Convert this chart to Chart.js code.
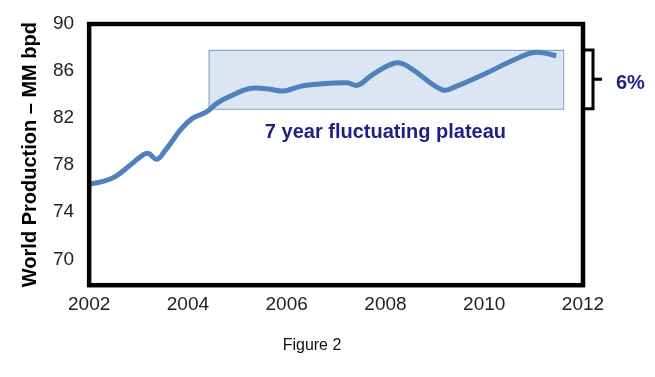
<!DOCTYPE html>
<html>
<head>
<meta charset="utf-8">
<script src="https://cdn.jsdelivr.net/npm/chart.js@4.4.1/dist/chart.umd.min.js"></script>
<style>
  body { margin: 0; background: #fff; }
  #wrap { width: 655px; height: 377px; }
</style>
</head>
<body>
<div id="wrap"><canvas id="chart" width="655" height="377"></canvas></div>
<script>
// 読み取ったデータ
const years = [2002.0, 2002.26, 2002.52, 2002.8, 2003.1, 2003.2, 2003.37, 2003.53, 2003.87, 2004.1,
  2004.37, 2004.6, 2004.93, 2005.23, 2005.6, 2005.94, 2006.28, 2006.68, 2007.22, 2007.44,
  2007.74, 2008.22, 2008.49, 2009.15, 2009.43, 2010.03, 2010.63, 2011.04, 2011.46];
const production = [76.4, 76.6, 77.0, 77.9, 78.9, 79.0, 78.5, 79.2, 81.1, 82.0,
  82.5, 83.3, 84.0, 84.5, 84.5, 84.3, 84.7, 84.9, 85.0, 84.8,
  85.7, 86.7, 86.3, 84.4, 84.7, 85.8, 87.0, 87.6, 87.3];
const xTicks = [2002, 2004, 2006, 2008, 2010, 2012];
const yTicks = [70, 74, 78, 82, 86, 90];
const plateau = [2004.42, 2011.6];     // 年
const plateauRange = [82.8, 87.8];     // MM bpd
const plateauLabel = "7 year fluctuating plateau";
const rangeLabel = "6%";
const yTitle = "World Production \u2013 MM bpd";
const caption = "Figure 2";

const NAVY = "#1f1f86";
const LINE_BLUE = "#4f81bd";
const FONT = "'Liberation Sans', Arial, sans-serif";

// プラトー枠・注記・外枠
const annotations = {
  id: "annotations",
  beforeDatasetsDraw(chart) {
    const { ctx, scales: { x, y } } = chart;
    const l = x.getPixelForValue(plateau[0]);
    const r = x.getPixelForValue(plateau[1]);
    const t = y.getPixelForValue(plateauRange[1]);
    const b = y.getPixelForValue(plateauRange[0]);
    ctx.save();
    ctx.fillStyle = "#dce6f2";
    ctx.fillRect(l, t, r - l, b - t);
    ctx.strokeStyle = "#7a9cc8";
    ctx.lineWidth = 1;
    ctx.strokeRect(l + 0.5, t + 0.5, r - l, b - t);
    ctx.restore();
  },
  afterDraw(chart) {
    const { ctx, chartArea: a, scales: { x, y } } = chart;
    const t = y.getPixelForValue(plateauRange[1]);
    const b = y.getPixelForValue(plateauRange[0]);
    ctx.save();
    // 外枠
    ctx.strokeStyle = "#000";
    ctx.lineWidth = 4.5;
    ctx.strokeRect(a.left, a.top, a.right - a.left, a.bottom - a.top);
    // 括弧
    const bx = a.right + 10;
    ctx.lineWidth = 3;
    ctx.beginPath();
    ctx.moveTo(a.right + 2, t);
    ctx.lineTo(bx, t);
    ctx.lineTo(bx, b);
    ctx.lineTo(a.right + 2, b);
    ctx.moveTo(bx, (t + b) / 2);
    ctx.lineTo(bx + 9, (t + b) / 2);
    ctx.stroke();
    // 文字
    ctx.fillStyle = NAVY;
    ctx.font = "bold 20px " + FONT;
    ctx.textBaseline = "middle";
    ctx.textAlign = "left";
    ctx.fillText(rangeLabel, bx + 23, (t + b) / 2 + 4);
    ctx.textAlign = "center";
    ctx.fillText(plateauLabel, x.getPixelForValue(2008.0), b + 24);
    ctx.fillStyle = "#111";
    ctx.font = "16px " + FONT;
    ctx.fillText(caption, 312, 346);
    ctx.restore();
  }
};

new Chart(document.getElementById("chart"), {
  type: "line",
  data: {
    datasets: [{
      data: years.map((v, i) => ({ x: v, y: production[i] })),
      borderColor: LINE_BLUE,
      borderWidth: 5,
      pointRadius: 0,
      tension: 0.4,
      fill: false
    }]
  },
  options: {
    responsive: false,
    animation: false,
    layout: { padding: { left: 18, right: 72, top: 24, bottom: 61 } },
    plugins: { legend: { display: false }, tooltip: { enabled: false } },
    scales: {
      x: {
        type: "linear",
        min: 2002,
        max: 2012,
        grid: { display: false },
        border: { display: false },
        afterBuildTicks: s => { s.ticks = xTicks.map(v => ({ value: v })); },
        ticks: {
          callback: v => String(v),
          color: "#222",
          font: { family: FONT, size: 19 },
          padding: 0,
          maxRotation: 0
        }
      },
      y: {
        min: 67.8,
        max: 90,
        grid: { display: false },
        border: { display: false },
        afterBuildTicks: s => { s.ticks = yTicks.map(v => ({ value: v })); },
        ticks: {
          color: "#222",
          font: { family: FONT, size: 19 },
          padding: 7
        },
        title: {
          display: true,
          text: yTitle,
          color: "#000",
          font: { family: FONT, size: 20, weight: "bold" },
          padding: { top: 0, bottom: 4 }
        }
      }
    }
  },
  plugins: [annotations]
});
</script>
</body>
</html>
